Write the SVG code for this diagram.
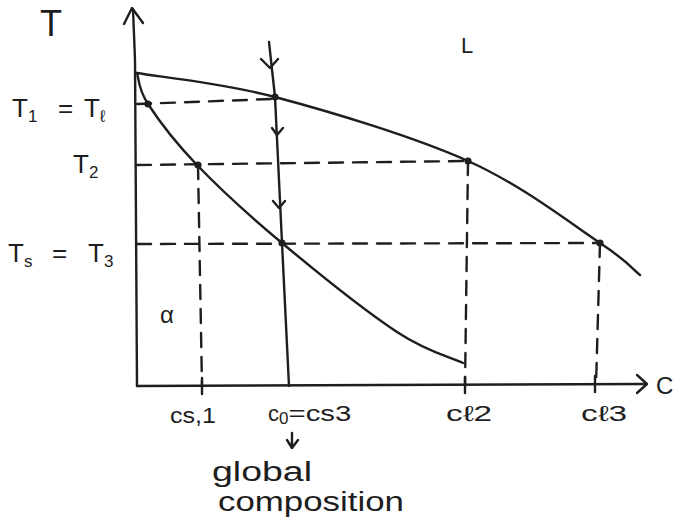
<svg xmlns="http://www.w3.org/2000/svg" width="674" height="531" viewBox="0 0 674 531">
<style>
.ln{fill:none;stroke:#1e1e1e;stroke-width:2.4;stroke-linecap:round;stroke-linejoin:round}
.ds{fill:none;stroke:#1e1e1e;stroke-width:2.4;stroke-dasharray:14 10;stroke-linecap:round}
.dot{fill:#1e1e1e}
text{font-family:"Liberation Sans",Arial,sans-serif;fill:#1e1e1e}
.tl{font-size:26px}
.sub{font-size:17px}
.lab{font-size:22px}
.note{font-size:27px}
</style>
<rect width="674" height="531" fill="#ffffff"/>

<g id="axes">
  <path class="ln" d="M137,386 L135,60 L133,9"/>
  <path class="ln" d="M124,24 L132,8 L143,23"/>
  <path class="ln" d="M137,386 L646,384"/>
  <path class="ln" d="M637,375 L647,384 L637,393"/>
  <path class="ln" d="M202,378 L202,394 M465,377 L465,393 M595,376 L595,392"/>
</g>

<g id="curves">
  <path id="liquidus" class="ln" d="M137,73 C160,77 219.8,82.3 275,97 C330.2,111.7 413.8,136.7 468,161 C522.2,185.3 571.3,224 600,243 C628.7,262 633.3,269.7 640,275"/>
  <path id="solidus" class="ln" d="M137,73 C138.8,78.2 138,88.7 148,104 C158,119.3 174.7,141.8 197,165 C219.3,188.2 248.7,215.2 282,243 C315.3,270.8 366.8,312 397,332 C427.2,352 452,357.8 463,363"/>
</g>

<g id="connectors">
  <path class="ds" d="M137,104 L272,99"/>
  <path class="ds" d="M137,165 L468,161"/>
  <path class="ds" d="M137,244 L600,243"/>
  <path class="ds" d="M198,165 L202,386"/>
  <path class="ds" d="M468,161 L465,386"/>
  <path class="ds" d="M600,243 L596,386"/>
  <path id="c0-line" class="ln" d="M269,42 L275,97 L282,243 L289,386"/>
  <path class="ln" d="M261,59 L270,68 L278,59"/>
  <path class="ln" d="M272,128 L277,135 L283,128"/>
  <path class="ln" d="M273,201 L279,208 L285,201"/>
  <path class="ln" d="M287,440 L292,448 L298,440 M292,433 L292,448"/>
</g>

<g id="nodes">
  <circle class="dot" cx="148" cy="104" r="3.6"/>
  <circle class="dot" cx="275" cy="97" r="3.6"/>
  <circle class="dot" cx="198" cy="165" r="3.6"/>
  <circle class="dot" cx="468" cy="161" r="3.6"/>
  <circle class="dot" cx="282" cy="243" r="3.6"/>
  <circle class="dot" cx="600" cy="243" r="3.6"/>
</g>

<g id="labels">
  <text x="40" y="36" font-size="36">T</text>
  <text x="461" y="53" font-size="22">L</text>
  <text class="tl" x="12" y="117">T<tspan class="sub" dy="5">1</tspan></text>
  <text class="tl" x="58" y="117">=</text>
  <text class="tl" x="84" y="117">T<tspan class="sub" dy="5">ℓ</tspan></text>
  <text class="tl" x="73" y="173">T<tspan class="sub" dy="5">2</tspan></text>
  <text class="tl" x="8" y="262">T<tspan class="sub" dy="5">s</tspan></text>
  <text class="tl" x="52" y="262">=</text>
  <text class="tl" x="88" y="262">T<tspan class="sub" dy="5">3</tspan></text>
  <text x="160" y="323" font-size="24">α</text>
  <text class="lab" x="170" y="423" textLength="46" lengthAdjust="spacingAndGlyphs">cs,1</text>
  <text class="lab" x="268" y="421">c<tspan class="sub" dy="3">0</tspan><tspan dy="-3" textLength="63" lengthAdjust="spacingAndGlyphs">=cs3</tspan></text>
  <text class="lab" x="446" y="421" textLength="46" lengthAdjust="spacingAndGlyphs">cℓ2</text>
  <text class="lab" x="581" y="421" textLength="46" lengthAdjust="spacingAndGlyphs">cℓ3</text>
  <text x="656" y="394" font-size="24">C</text>
  <text class="note" x="212" y="481" textLength="100" lengthAdjust="spacingAndGlyphs">global</text>
  <text class="note" x="218" y="511" textLength="186" lengthAdjust="spacingAndGlyphs">composition</text>
</g>
</svg>
